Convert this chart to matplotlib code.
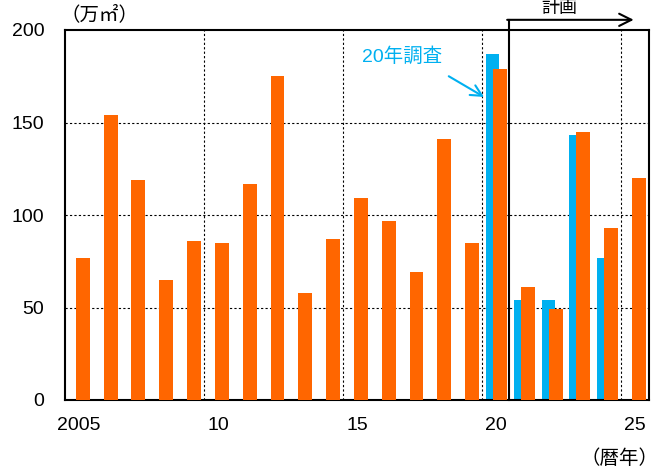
import numpy as np
import matplotlib
matplotlib.use("Agg")
import matplotlib.pyplot as plt

plt.rcParams['font.family'] = ['Liberation Sans', 'Noto Sans CJK JP', 'DejaVu Sans']

# data
years = list(range(2005, 2026))
plan = [77, 154, 119, 65, 86, 85, 117, 175, 58, 87, 109, 97, 69, 141, 85,
        179, 61, 49, 145, 93, 120]
survey_years = [2020, 2021, 2022, 2023, 2024]
survey = [187, 54, 54, 143, 77]
tick_years = [2005, 2010, 2015, 2020, 2025]
tick_labels = ["2005", "10", "15", "20", "25"]

blue = "#00B0F0"
orange = "#FF6600"

fig = plt.figure(figsize=(6.61, 4.68), dpi=100)
ax = fig.add_axes([65 / 661, 1 - 400 / 468, 584 / 661, 370 / 468])

x = np.array(years) - years[0]
xs = np.array(survey_years) - years[0]
ax.bar(xs - 0.13, survey, width=0.47, color=blue, zorder=2)
ax.bar(x + 0.14, plan, width=0.5, color=orange, zorder=3)

ax.set_xlim(-0.5, len(years) - 0.5)
ax.set_ylim(0, 200)
ax.set_yticks([0, 50, 100, 150, 200])
ax.set_xticks(np.array(tick_years) - years[0])
ax.set_xticklabels(tick_labels)
ax.tick_params(axis='both', length=0, labelsize=14)
ax.tick_params(axis='y', pad=15)
ax.tick_params(axis='x', pad=12)

# grid
for v in [50, 100, 150]:
    ax.axhline(v, color='black', lw=0.8, ls=(0, (2, 2)), zorder=1)
for g in [4.5, 9.5, 14.5, 19.5]:
    ax.axvline(g, color='black', lw=0.8, ls=(0, (2, 2)), zorder=1)

for s in ax.spines.values():
    s.set_linewidth(1.5)

# plan bracket
ax.plot([15.45, 15.45], [0, 205.5], color='black', lw=1.5, clip_on=False, zorder=4)
ax.annotate("", xy=(19.95, 205.5), xytext=(15.4, 205.5),
            arrowprops=dict(arrowstyle="->", lw=1.5, color='black',
                            mutation_scale=22, shrinkA=0, shrinkB=0),
            annotation_clip=False)
ax.text(17.26, 211.5, "計画", ha='center', va='center', fontsize=13)

# survey note
ax.text(11.62, 185.4, "20年調査", ha='center', va='center', fontsize=14, color=blue)
ax.annotate("", xy=(14.57, 163.8), xytext=(13.3, 175.0),
            arrowprops=dict(arrowstyle="->", lw=1.5, color=blue,
                            mutation_scale=20, shrinkA=0, shrinkB=0))

fig.text(100 / 661, 1 - 15 / 468, "（万㎡）", ha='center', va='center', fontsize=14)
fig.text(620 / 661, 1 - 459 / 468, "（暦年）", ha='center', va='center', fontsize=14)

fig.savefig("out.png", dpi=100)
